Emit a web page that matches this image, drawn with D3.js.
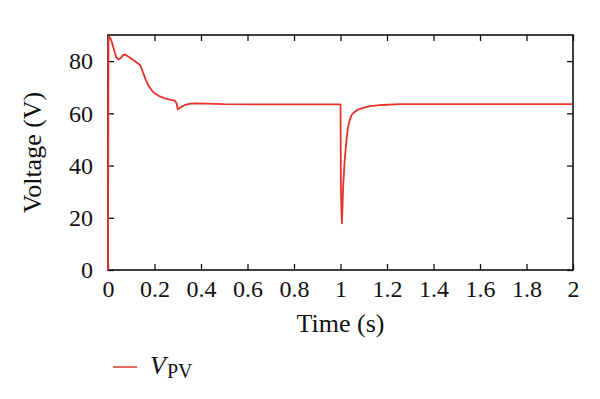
<!DOCTYPE html>
<html>
<head>
<meta charset="utf-8">
<script src="https://cdn.jsdelivr.net/npm/d3@7"></script>
<style>
  body { margin: 0; background: #fff; }
  text { font-family: "Liberation Serif", "DejaVu Serif", serif; fill: #111; }
</style>
</head>
<body>
<div id="chart"></div>
<script>
// PV voltage response
const timeS = [0, 0.002, 0.004, 0.01, 0.016, 0.025, 0.035, 0.045, 0.055, 0.065, 0.073, 0.09, 0.11, 0.138,
  0.15, 0.162, 0.173, 0.188, 0.202, 0.22, 0.245, 0.27, 0.288, 0.295, 0.30, 0.31, 0.331, 0.35, 0.374, 0.42,
  0.5, 0.7, 0.9, 1.0, 1.002, 1.006, 1.012, 1.018, 1.025, 1.032, 1.04, 1.05, 1.07, 1.1, 1.127, 1.18, 1.256,
  1.4, 1.7, 2.0];
const voltage = [0, 88, 89.5, 88.8, 87.4, 84.5, 81.5, 80.6, 81.2, 82.3, 82.5, 81.6, 80.3, 78.5,
  75.8, 73, 70.8, 68.8, 67.6, 66.6, 65.7, 65.2, 64.8, 63.8, 61.5, 62.2, 63.2, 63.6, 63.8, 63.7,
  63.5, 63.4, 63.4, 63.4, 30, 17.9, 33, 42, 49, 54.5, 57.6, 59.7, 61.2, 62.2, 62.8, 63.2, 63.5,
  63.5, 63.5, 63.5];
const xTicks = [0, 0.2, 0.4, 0.6, 0.8, 1, 1.2, 1.4, 1.6, 1.8, 2];
const yTicks = [0, 20, 40, 60, 80];

const width = 600, height = 399;
const margin = { top: 35, right: 27, bottom: 129, left: 108 };
const lineColor = '#e8322b';

const svg = d3.select('#chart').append('svg')
  .attr('width', width)
  .attr('height', height);

const x = d3.scaleLinear().domain([0, 2]).range([margin.left, width - margin.right]);
const y = d3.scaleLinear().domain([0, 90]).range([height - margin.bottom, margin.top]);

const fmt = d => d === 0 || d === 1 || d === 2 ? String(d) : d3.format('.1f')(d);

// bottom axis
svg.append('g')
  .attr('transform', `translate(0,${y(0)})`)
  .call(d3.axisBottom(x).tickValues(xTicks).tickSizeInner(-6).tickSizeOuter(0).tickPadding(10).tickFormat(fmt))
  .call(g => g.select('.domain').remove())
  .call(g => g.selectAll('line').attr('stroke', '#111').attr('stroke-width', 1.3))
  .call(g => g.selectAll('text').attr('font-size', 24).attr('fill', '#111'));
// top ticks
svg.append('g')
  .attr('transform', `translate(0,${y(90)})`)
  .call(d3.axisTop(x).tickValues(xTicks).tickSizeInner(-6).tickSizeOuter(0).tickFormat(''))
  .call(g => g.select('.domain').remove())
  .call(g => g.selectAll('line').attr('stroke', '#111').attr('stroke-width', 1.3));
// left axis
svg.append('g')
  .attr('transform', `translate(${x(0)},0)`)
  .call(d3.axisLeft(y).tickValues(yTicks).tickSizeInner(-6).tickSizeOuter(0).tickPadding(15))
  .call(g => g.select('.domain').remove())
  .call(g => g.selectAll('line').attr('stroke', '#111').attr('stroke-width', 1.3))
  .call(g => g.selectAll('text').attr('font-size', 24).attr('fill', '#111'));
// right ticks
svg.append('g')
  .attr('transform', `translate(${x(2)},0)`)
  .call(d3.axisRight(y).tickValues(yTicks).tickSizeInner(-6).tickSizeOuter(0).tickFormat(''))
  .call(g => g.select('.domain').remove())
  .call(g => g.selectAll('line').attr('stroke', '#111').attr('stroke-width', 1.3));

// frame
svg.append('rect')
  .attr('x', x(0)).attr('y', y(90))
  .attr('width', x(2) - x(0)).attr('height', y(0) - y(90))
  .attr('fill', 'none').attr('stroke', '#111').attr('stroke-width', 1.6);

const pts = timeS.map((t, i) => ({ t, v: voltage[i] }));
const line = d3.line().x(d => x(d.t)).y(d => y(d.v));
svg.append('path')
  .datum(pts)
  .attr('d', line)
  .attr('fill', 'none')
  .attr('stroke', lineColor)
  .attr('stroke-width', 1.8)
  .attr('stroke-linejoin', 'round');

// axis titles
svg.append('text')
  .attr('x', (x(0) + x(2)) / 2).attr('y', 332)
  .attr('text-anchor', 'middle').attr('font-size', 26)
  .text('Time (s)');
svg.append('text')
  .attr('transform', `translate(41,${(y(0) + y(90)) / 2}) rotate(-90)`)
  .attr('text-anchor', 'middle').attr('font-size', 26)
  .text('Voltage (V)');

// legend
svg.append('line')
  .attr('x1', 113).attr('x2', 137).attr('y1', 367).attr('y2', 367)
  .attr('stroke', '#dd3f2a').attr('stroke-width', 1.5);
const lg = svg.append('text').attr('x', 150).attr('y', 374).attr('font-size', 26);
lg.append('tspan').attr('font-style', 'italic').text('V');
lg.append('tspan').attr('font-size', 20).attr('dx', 1).attr('dy', 4).text('PV');
</script>
</body>
</html>
